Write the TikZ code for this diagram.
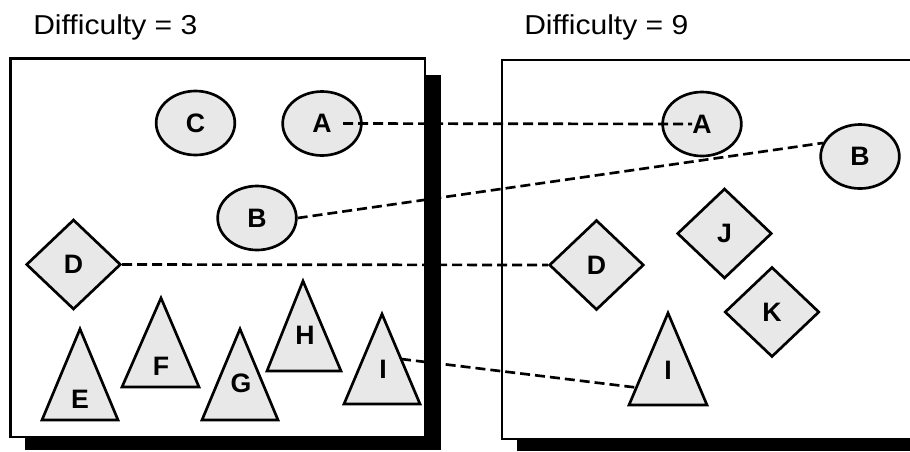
\documentclass[tikz,border=0pt]{standalone}
\usepackage{fontspec}
\setmainfont{Liberation Sans}
\usetikzlibrary{shapes.geometric,calc}
\begin{document}
\begin{tikzpicture}[x=0.75pt,y=-0.75pt,
  shp/.style={draw=black,line width=2pt,fill=gray!18,font=\fontsize{20}{22}\selectfont\bfseries,inner sep=0pt},
  ell/.style={shp,ellipse,minimum width=59pt,minimum height=48pt},
  dia/.style={shp,diamond,minimum width=71pt,minimum height=67.5pt},
  tri/.style={draw=black,line width=2pt,fill=gray!18,line join=miter},
  lbl/.style={font=\fontsize{20}{22}\selectfont\bfseries,inner sep=0pt},
  link/.style={line width=2pt,dash pattern=on 7.5pt off 3.75pt},
  frame/.style={draw=black,line width=2pt,fill=white},
  shadowfill/.style={fill=black},
  title/.style={font=\fontsize{20.5}{22}\selectfont,inner sep=0pt,anchor=base west}]
\useasboundingbox (0,0) rectangle (910,451);
% left panel
\fill[shadowfill] (425,75) rectangle (441,450);
\fill[shadowfill] (25,437) rectangle (441,450);
\draw[frame] (10.5,58.5) rectangle (425,437);
% right panel
\fill[shadowfill] (517,439) rectangle (910,451);
\fill[white] (502,60) rectangle (910,439);
\draw[line width=2pt] (910,60) -- (502,60) -- (502,439) -- (910,439);
% titles
\node[title] (t1) at (33,34) {\scalebox{1.1}[1]{Difficulty = 3}};
\node[title] (t2) at (524,34) {\scalebox{1.1}[1]{Difficulty = 9}};
% left shapes
\node[ell] (C) at (195.5,123) {C};
\node[ell] (A1) at (322,123.5) {A};
\node[ell] (B1) at (257,218) {B};
\node[dia] (D1) at (73.5,264.5) {D};
\coordinate (Ea) at (80,329); \coordinate (El) at (42,420); \coordinate (Er) at (118,420);
\draw[tri] (Ea) -- (Er) -- (El) -- cycle;
\node[lbl] (E) at (80,399) {E};
\coordinate (Fa) at (161,298); \coordinate (Fl) at (122,387); \coordinate (Fr) at (199,387);
\draw[tri] (Fa) -- (Fr) -- (Fl) -- cycle;
\node[lbl] (F) at (161,366) {F};
\coordinate (Ga) at (240,329); \coordinate (Gl) at (202,420); \coordinate (Gr) at (278,420);
\draw[tri] (Ga) -- (Gr) -- (Gl) -- cycle;
\node[lbl] (G) at (241,383) {G};
\coordinate (Ha) at (303,281); \coordinate (Hl) at (267,371); \coordinate (Hr) at (341,371);
\draw[tri] (Ha) -- (Hr) -- (Hl) -- cycle;
\node[lbl] (H) at (305,335) {H};
\coordinate (I1a) at (382,314); \coordinate (I1l) at (344,404); \coordinate (I1r) at (420,404);
\draw[tri] (I1a) -- (I1r) -- (I1l) -- cycle;
\node[lbl] (I1) at (383,369) {I};
% right shapes
\node[ell] (A2) at (702,124) {A};
\node[ell] (B2) at (860,156.5) {B};
\node[dia] (J) at (724.5,233.5) {J};
\node[dia] (D2) at (596.5,265) {D};
\node[dia] (K) at (772,312) {K};
\coordinate (I2a) at (668,313); \coordinate (I2l) at (629,405); \coordinate (I2r) at (707,405);
\draw[tri] (I2a) -- (I2r) -- (I2l) -- cycle;
\node[lbl] (I2) at (668,370) {I};
% connectors
\draw[link] ([xshift=15.75pt]A1.center) -- ([xshift=-7.5pt]A2.center);
\draw[link] (B1.east) -- (B2.160);
\draw[link] (D1.east) -- (D2.west);
\draw[link] ($(I1a)!0.5!(I1r)$) -- ($(I2a)!0.81!(I2l)$);
\end{tikzpicture}
\end{document}
